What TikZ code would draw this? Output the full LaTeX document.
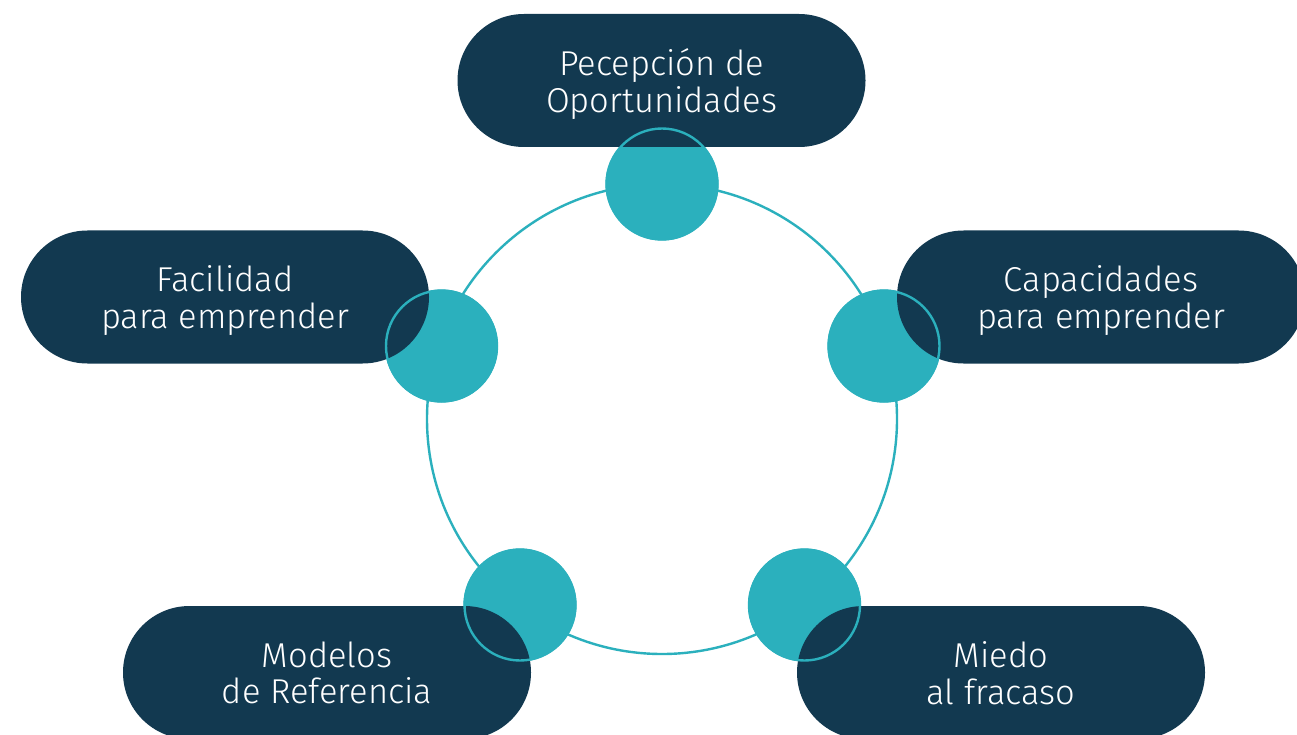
\documentclass[tikz,border=0pt]{standalone}
\usepackage{fontspec}
\setmainfont{Fira Sans Light}
\usetikzlibrary{shapes.misc}
\definecolor{navy}{RGB}{18,57,80}
\definecolor{tealc}{RGB}{43,176,189}
\tikzset{
  pill/.style={rounded rectangle, fill=navy, minimum width=408pt, minimum height=133pt, inner sep=0pt},
  pilltext/.style={text=white, align=center, inner sep=0pt, font=\fontsize{34.5}{36.5}\selectfont},
  dot/.style={circle, fill=tealc, minimum size=113pt, inner sep=0pt},
  ring/.style={draw=tealc, line width=2.4pt},
}
\begin{document}
\begin{tikzpicture}[x=1pt,y=-1pt]
\useasboundingbox[fill=white] (0,0) rectangle (1297,735);
\coordinate (o) at (662,419);
\draw[ring] (o) circle (235);
\node[dot] (c1) at (662,184) {};
\node[dot] (c2) at (441.5,346) {};
\node[dot] (c3) at (884,346) {};
\node[dot] (c4) at (520,605) {};
\node[dot] (c5) at (804.5,605) {};
\node[pill] (p1) at (661.5,80.5) {};
\node[pill] (p2) at (225,297) {};
\node[pill] (p3) at (1101,297) {};
\node[pill] (p4) at (327,672.5) {};
\node[pill] (p5) at (1001,672.5) {};
\node[pilltext] (t1) at ([yshift=-3.5pt]p1.center) {Pecepción de\\Oportunidades};
\node[pilltext] (t2) at ([yshift=-3.5pt]p2.center) {Facilidad\\para emprender};
\node[pilltext] (t3) at ([yshift=-3.5pt]p3.center) {Capacidades\\para emprender};
\node[pilltext] (t4) at ([yshift=-0.5pt]p4.center) {Modelos\\de Referencia};
\node[pilltext] (t5) at ([yshift=-0.5pt]p5.center) {Miedo\\al fracaso};
\foreach \c in {c1,c2,c3,c4,c5}{\draw[ring] (\c.center) circle (55.5);}
\end{tikzpicture}
\end{document}
